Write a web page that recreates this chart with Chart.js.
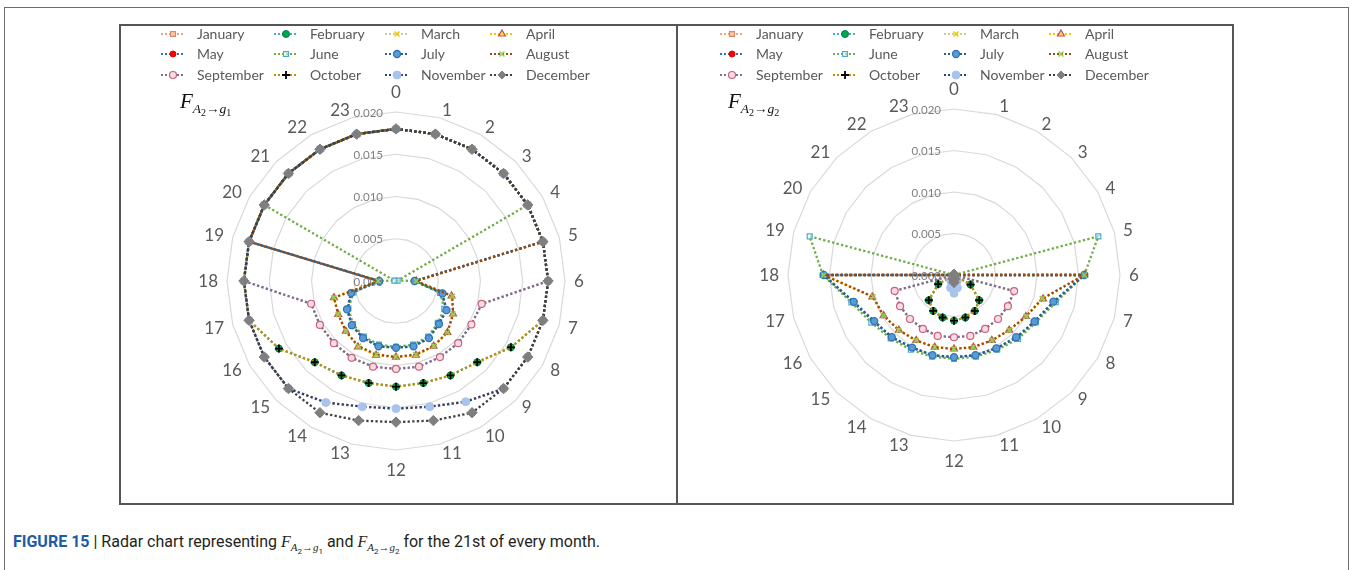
<!DOCTYPE html>
<html>
<head>
<meta charset="utf-8">
<script src="https://cdn.jsdelivr.net/npm/chart.js@4.4.1/dist/chart.umd.min.js"></script>
<style>
  html, body { margin: 0; padding: 0; background: #fff; }
  body { width: 1352px; height: 570px; position: relative; overflow: hidden; font-family: Lato, "Open Sans", sans-serif; }
  .frame { position: absolute; left: 4px; top: 7px; width: 1345px; height: 620px; border: 1.5px solid #6b6b6b; box-sizing: border-box; }
  .panel { position: absolute; left: 119px; top: 24px; width: 1115px; height: 481px; border: 2px solid #555; box-sizing: border-box; }
  .divider { position: absolute; left: 676px; top: 24px; width: 2px; height: 481px; background: #555; }
  canvas { position: absolute; }
  #g1 { left: 120px; top: 26px; }
  #g2 { left: 679px; top: 26px; }
  .formula { position: absolute; font-family: "Liberation Serif", "DejaVu Serif", serif; color: #111; white-space: nowrap; }
  .formula .F { font-style: italic; font-size: 21px; }
  .formula .sub { font-style: italic; font-size: 13.5px; position: relative; top: 5px; }
  .formula .sub2 { font-style: normal; font-size: 10px; position: relative; top: 3px; }
  .caption { position: absolute; left: 13px; top: 532px; font-family: Roboto, "Liberation Sans", sans-serif; font-size: 16px; color: #231f20; white-space: nowrap; }
  .caption b { color: #1d5ba6; }
  .caption i { font-family: "Liberation Serif", serif; }
  .caption sub { font-size: 11px; }
  .caption sub sub { font-size: 8px; }
</style>
</head>
<body>
<div class="frame"></div>
<div class="panel"></div>
<div class="divider"></div>
<canvas id="g1" width="556" height="477"></canvas>
<canvas id="g2" width="553" height="477"></canvas>
<div class="formula" style="left:180px; top:89px;"><span class="F">F</span><span class="sub">A<span class="sub2">2</span>→g<span class="sub2">1</span></span></div>
<div class="formula" style="left:728px; top:89px;"><span class="F">F</span><span class="sub">A<span class="sub2">2</span>→g<span class="sub2">2</span></span></div>
<div class="caption"><b>FIGURE 15</b> | Radar chart representing <i>F</i><sub><i>A</i><sub>2</sub>→<i>g</i><sub>1</sub></sub> and <i>F</i><sub><i>A</i><sub>2</sub>→<i>g</i><sub>2</sub></sub> for the 21st of every month.</div>

<script>
// Hours of the day around the radar, and the radial tick values
const hours = ['0','1','2','3','4','5','6','7','8','9','10','11','12','13','14','15','16','17','18','19','20','21','22','23'];
const tickValues = [0, 0.005, 0.010, 0.015, 0.020];
const tickLabels = ['0.000', '0.005', '0.010', '0.015', '0.020'];
const months = ['January','February','March','April','May','June','July','August','September','October','November','December'];

// F A2->g1, 21st of each month, hourly
const janG1 = [0.0180,0.0180,0.0180,0.0180,0.0180,0.0180,0.0180,0.0180,0.0180,0.0180,0.0165,0.0154,0.0151,0.0154,0.0166,0.0180,0.0180,0.0180,0.0180,0.0180,0.0180,0.0180,0.0180,0.0180];
const febG1 = [0.0180,0.0180,0.0180,0.0180,0.0180,0.0180,0.0180,0.0180,0.0157,0.0136,0.0129,0.0125,0.0125,0.0125,0.0129,0.0136,0.0160,0.0180,0.0180,0.0180,0.0180,0.0180,0.0180,0.0180];
const marG1 = [0.0180,0.0180,0.0180,0.0180,0.0180,0.0180,0.0180,0.0105,0.0103,0.0104,0.0104,0.0105,0.0104,0.0105,0.0105,0.0104,0.0104,0.0104,0.0180,0.0180,0.0180,0.0180,0.0180,0.0180];
const aprG1 = [0.0180,0.0180,0.0180,0.0180,0.0180,0.0180,0.0024,0.0068,0.0078,0.0086,0.0089,0.0091,0.0090,0.0091,0.0090,0.0084,0.0079,0.0076,0.0020,0.0180,0.0180,0.0180,0.0180,0.0180];
const mayG1 = [0.0180,0.0180,0.0180,0.0180,0.0180,0.0180,0.0022,0.0056,0.0069,0.0071,0.0078,0.0080,0.0079,0.0080,0.0078,0.0074,0.0066,0.0054,0.0020,0.0180,0.0180,0.0180,0.0180,0.0180];
const junG1 = [0.0180,0.0180,0.0180,0.0180,0.0180,0.0002,0.0023,0.0054,0.0066,0.0070,0.0076,0.0078,0.0078,0.0078,0.0076,0.0072,0.0065,0.0052,0.0021,0.0002,0.0180,0.0180,0.0180,0.0180];
const julG1 = [0.0180,0.0180,0.0180,0.0180,0.0180,0.0180,0.0022,0.0057,0.0069,0.0072,0.0078,0.0080,0.0079,0.0080,0.0078,0.0074,0.0067,0.0055,0.0020,0.0180,0.0180,0.0180,0.0180,0.0180];
const augG1 = [0.0180,0.0180,0.0180,0.0180,0.0180,0.0180,0.0024,0.0069,0.0078,0.0086,0.0089,0.0090,0.0090,0.0090,0.0089,0.0084,0.0079,0.0076,0.0021,0.0180,0.0180,0.0180,0.0180,0.0180];
const sepG1 = [0.0180,0.0180,0.0180,0.0180,0.0180,0.0180,0.0180,0.0105,0.0103,0.0104,0.0104,0.0105,0.0104,0.0105,0.0105,0.0104,0.0104,0.0104,0.0180,0.0180,0.0180,0.0180,0.0180,0.0180];
const octG1 = [0.0180,0.0180,0.0180,0.0180,0.0180,0.0180,0.0180,0.0180,0.0157,0.0136,0.0129,0.0125,0.0125,0.0125,0.0129,0.0136,0.0160,0.0180,0.0180,0.0180,0.0180,0.0180,0.0180,0.0180];
const novG1 = [0.0180,0.0180,0.0180,0.0180,0.0180,0.0180,0.0180,0.0180,0.0180,0.0180,0.0165,0.0154,0.0151,0.0154,0.0166,0.0180,0.0180,0.0180,0.0180,0.0180,0.0180,0.0180,0.0180,0.0180];
const decG1 = [0.0180,0.0180,0.0180,0.0180,0.0180,0.0180,0.0180,0.0180,0.0180,0.0180,0.0180,0.0171,0.0167,0.0171,0.0180,0.0180,0.0180,0.0180,0.0180,0.0180,0.0180,0.0180,0.0180,0.0180];

// F A2->g2, 21st of each month, hourly
const janG2 = [0,0,0,0,0,0,0,0,0,0,0.0008,0.0016,0.0022,0.0016,0.0008,0,0,0,0,0,0,0,0,0];
const febG2 = [0,0,0,0,0,0,0,0,0.0023,0.0043,0.0050,0.0053,0.0055,0.0053,0.0050,0.0043,0.0022,0,0,0,0,0,0,0];
const marG2 = [0,0,0,0,0,0,0,0.0075,0.0075,0.0075,0.0075,0.0076,0.0075,0.0076,0.0075,0.0075,0.0075,0.0074,0,0,0,0,0,0];
const aprG2 = [0,0,0,0,0,0,0.0157,0.0111,0.0100,0.0094,0.0091,0.0090,0.0089,0.0090,0.0091,0.0094,0.0098,0.0102,0.0157,0,0,0,0,0];
const mayG2 = [0,0,0,0,0,0,0.0157,0.0125,0.0112,0.0107,0.0102,0.0100,0.0099,0.0100,0.0101,0.0106,0.0112,0.0126,0.0157,0,0,0,0,0];
const junG2 = [0,0,0,0,0,0.0180,0.0157,0.0127,0.0114,0.0109,0.0104,0.0102,0.0101,0.0102,0.0104,0.0108,0.0115,0.0128,0.0158,0.0180,0,0,0,0];
const julG2 = [0,0,0,0,0,0,0.0157,0.0124,0.0112,0.0106,0.0102,0.0100,0.0099,0.0100,0.0101,0.0106,0.0111,0.0125,0.0157,0,0,0,0,0];
const augG2 = [0,0,0,0,0,0,0.0157,0.0110,0.0100,0.0094,0.0091,0.0090,0.0089,0.0090,0.0091,0.0094,0.0098,0.0101,0.0157,0,0,0,0,0];
const sepG2 = [0,0,0,0,0,0,0,0.0075,0.0075,0.0075,0.0075,0.0076,0.0075,0.0076,0.0075,0.0075,0.0075,0.0074,0,0,0,0,0,0];
const octG2 = [0,0,0,0,0,0,0,0,0.0023,0.0043,0.0050,0.0053,0.0055,0.0053,0.0050,0.0043,0.0022,0,0,0,0,0,0,0];
const novG2 = [0,0,0,0,0,0,0,0,0,0,0.0008,0.0016,0.0022,0.0016,0.0008,0,0,0,0,0,0,0,0,0];
const decG2 = [0,0,0,0,0,0,0,0,0,0,0,0.0005,0.0009,0.0005,0,0,0,0,0,0,0,0,0,0];

const seriesG1 = [janG1, febG1, marG1, aprG1, mayG1, junG1, julG1, augG1, sepG1, octG1, novG1, decG1];
const seriesG2 = [janG2, febG2, marG2, aprG2, mayG2, junG2, julG2, augG2, sepG2, octG2, novG2, decG2];

// Series styling: dotted line colour and marker
const lineColors  = ['#F2A477','#4BACC6','#D6C7A8','#FFC000','#2F6EBA','#70AD47','#255E91','#9E480E','#7E6A92','#BF9000','#264478','#404040'];
const markerStyle = ['rect','circle','crossRot','triangle','circle','rect','circle','crossRot','circle','cross','circle','rectRot'];
const markerFill  = ['#F8CBAD','#00A651','#F2C500','#FFD966','#FF0000','rgba(255,255,255,0.5)','#5B9BD5','#92D050','#F8DCE3','#000000','#A9C4EB','#7F7F7F'];
const markerLine  = ['#D98C5F','#00803F','#F2C500','#C0504D','#E00000','#4BACC6','#2E75B6','#92D050','#C8607E','#000000','#A9C4EB','#7F7F7F'];
const markerSize  = [3.5, 3.5, 3.5, 4, 3, 3.5, 3.5, 3.5, 3.5, 4, 4, 5.2];
const markerBorder = [1.2, 1, 1.5, 1.2, 1, 1.2, 1.3, 1.5, 1.2, 1.8, 1, 1];

const legendTextX = [77, 190, 301, 406];
const legendRowY = [8, 28, 49];

function buildDatasets(series) {
  return months.map((m, i) => ({
    label: m,
    data: series[i],
    borderColor: lineColors[i],
    backgroundColor: 'transparent',
    fill: false,
    borderWidth: 2.3,
    borderDash: [2.3, 2.3],
    borderCapStyle: 'butt',
    pointStyle: markerStyle[i],
    pointRadius: markerSize[i],
    pointBackgroundColor: markerFill[i],
    pointBorderColor: markerLine[i],
    pointBorderWidth: markerBorder[i],
    order: 11 - i
  }));
}

function drawMarker(ctx, i, x, y) {
  ctx.save();
  ctx.setLineDash([]);
  ctx.fillStyle = markerFill[i];
  ctx.strokeStyle = markerLine[i];
  ctx.lineWidth = markerBorder[i];
  const r = Math.min(markerSize[i], 4);
  Chart.helpers.drawPoint(ctx, { pointStyle: markerStyle[i], radius: r, borderWidth: markerBorder[i], rotation: 0 }, x, y);
  ctx.restore();
}

// Tick values, hour labels and the legend, placed from the radial scale
const radarText = {
  id: 'radarText',
  beforeDatasetsDraw(chart) {
    const s = chart.scales.r;
    const ctx = chart.ctx;
    ctx.save();
    ctx.font = '11.5px Lato, sans-serif';
    ctx.fillStyle = '#7F7F7F';
    ctx.textAlign = 'right';
    ctx.textBaseline = 'middle';
    tickValues.forEach((v, k) => {
      const d = s.getDistanceFromCenterForValue(v);
      ctx.fillText(tickLabels[k], s.xCenter - 13, s.yCenter - d + 1);
    });
    ctx.font = '17px Lato, sans-serif';
    ctx.fillStyle = '#595959';
    hours.forEach((h, i) => {
      const p = s.getPointPosition(i, s.drawingArea + 9);
      let y = p.y + 1;
      if (i === 0) { ctx.textAlign = 'center'; y -= 11; }
      else if (i === 12) { ctx.textAlign = 'center'; y += 11; }
      else if (i < 12) { ctx.textAlign = 'left'; }
      else { ctx.textAlign = 'right'; }
      ctx.fillText(h, p.x, y);
    });
    ctx.restore();
  },
  afterDraw(chart) {
    const ctx = chart.ctx;
    ctx.save();
    ctx.font = '14px Lato, sans-serif';
    ctx.textBaseline = 'middle';
    ctx.textAlign = 'left';
    chart.data.datasets.forEach((ds, i) => {
      const tx = legendTextX[i % 4];
      const ty = legendRowY[Math.floor(i / 4)];
      ctx.save();
      ctx.strokeStyle = ds.borderColor;
      ctx.lineWidth = 2;
      ctx.setLineDash([2, 2]);
      ctx.beginPath();
      ctx.moveTo(tx - 36, ty);
      ctx.lineTo(tx - 12, ty);
      ctx.stroke();
      ctx.restore();
      drawMarker(ctx, i, tx - 24, ty);
      ctx.fillStyle = '#595959';
      ctx.fillText(ds.label, tx, ty + 0.5);
    });
    ctx.restore();
  }
};

function makeChart(id, series, pad) {
  return new Chart(document.getElementById(id), {
    type: 'radar',
    data: { labels: hours, datasets: buildDatasets(series) },
    options: {
      responsive: false,
      animation: false,
      events: [],
      layout: { padding: pad },
      elements: { line: { tension: 0 } },
      plugins: { legend: { display: false }, tooltip: { enabled: false } },
      scales: {
        r: {
          min: 0,
          max: 0.02,
          ticks: { display: false, stepSize: 0.005 },
          grid: { color: '#D9D9D9', lineWidth: 1.2 },
          angleLines: { display: false },
          pointLabels: { display: false }
        }
      }
    },
    plugins: [radarText]
  });
}

makeChart('g1', seriesG1, { left: 107, top: 86, right: 111, bottom: 53 });
makeChart('g2', seriesG2, { left: 109, top: 83, right: 112, bottom: 62 });
</script>
</body>
</html>
